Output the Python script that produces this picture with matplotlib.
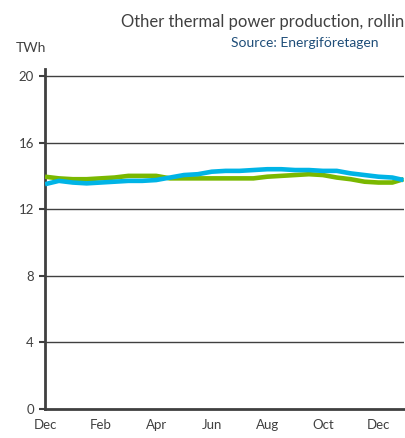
import matplotlib
matplotlib.use("Agg")
import matplotlib.pyplot as plt

plt.rcParams['font.family'] = ['Lato', 'DejaVu Sans']

months = [0, 0.5, 1, 1.5, 2, 2.5, 3, 3.5, 4, 4.5, 5, 5.5, 6, 6.5, 7, 7.5, 8,
          8.5, 9, 9.5, 10, 10.5, 11, 11.5, 12, 12.5, 12.9]
green_vals = [13.95, 13.85, 13.8, 13.8, 13.85, 13.9, 14.0, 14.0, 14.0, 13.85,
              13.85, 13.85, 13.85, 13.85, 13.85, 13.85, 13.95, 14.0, 14.05,
              14.1, 14.05, 13.9, 13.8, 13.65, 13.6, 13.6, 13.8]
blue_vals = [13.5, 13.7, 13.6, 13.55, 13.6, 13.65, 13.7, 13.7, 13.75, 13.9,
             14.05, 14.1, 14.25, 14.3, 14.3, 14.35, 14.4, 14.4, 14.35, 14.35,
             14.3, 14.3, 14.15, 14.05, 13.95, 13.9, 13.75]
xtick_pos = [0, 2, 4, 6, 8, 10, 12]
xtick_labels = ['Dec', 'Feb', 'Apr', 'Jun', 'Aug', 'Oct', 'Dec']
ytick_vals = [0, 4, 8, 12, 16, 20]

fig = plt.figure(figsize=(4.05, 4.38), dpi=100)
ax = fig.add_axes([45/405, 1-409/438, (404-45)/405, (409-69.3)/438])

for y in ytick_vals[1:]:
    ax.axhline(y, color='#404040', lw=1.0, zorder=1)

ax.plot(months, green_vals, color='#7AB800', lw=3.3, solid_capstyle='butt', zorder=3)
ax.plot(months, blue_vals, color='#00B4E6', lw=3.3, solid_capstyle='butt', zorder=4)

ax.set_xlim(0, 12.92)
ax.set_ylim(0, 20.4)
ax.set_yticks(ytick_vals)
ax.set_xticks(xtick_pos)
ax.set_xticklabels(xtick_labels)
ax.tick_params(axis='x', length=0, pad=7, labelsize=9.5, labelcolor='#404040')
ax.tick_params(axis='y', length=4, width=1.5, color='#404040', pad=4,
               labelsize=9.5, labelcolor='#404040')
for s in ['top', 'right']:
    ax.spines[s].set_visible(False)
for s in ['left', 'bottom']:
    ax.spines[s].set_color('#404040')
    ax.spines[s].set_linewidth(2)

fig.text(404/405, 1-22/438, 'Other thermal power production, rollin',
         fontsize=12, color='#404040', ha='right', va='center')
fig.text(231/405, 1-43/438, 'Source: Energiföretagen', fontsize=10,
         color='#1F4E79', ha='left', va='center')
fig.text(16/405, 1-48/438, 'TWh', fontsize=10, color='#404040', ha='left', va='center')

fig.savefig('out.png', dpi=100)
